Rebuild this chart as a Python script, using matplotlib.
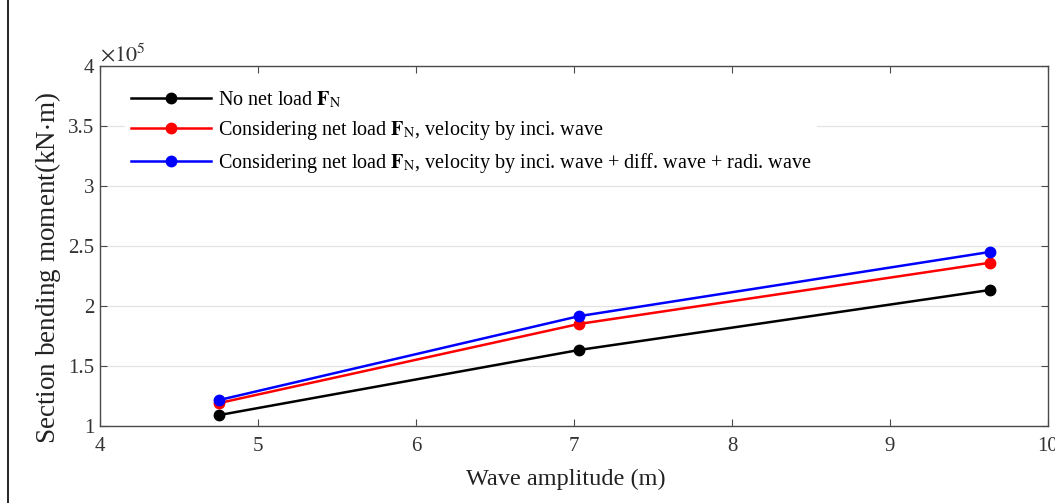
import matplotlib
matplotlib.use('Agg')
import matplotlib.pyplot as plt
from matplotlib.lines import Line2D

plt.rcParams.update({
    'font.family': ['Liberation Serif', 'DejaVu Serif'],
    'mathtext.fontset': 'stix',
    'font.size': 15,
})

# wave amplitude (m)
amplitude = [4.75, 7.03, 9.63]
# section bending moment, units of 1e5 kN*m
no_net_load = [1.09, 1.633, 2.133]
net_load_inci = [1.19, 1.85, 2.36]
net_load_all = [1.215, 1.915, 2.45]

labels = [
    r'No net load $\mathbf{F}_\mathrm{N}$',
    r'Considering net load $\mathbf{F}_\mathrm{N}$, velocity by inci. wave',
    r'Considering net load $\mathbf{F}_\mathrm{N}$, velocity by inci. wave + diff. wave + radi. wave',
]
colors = ['black', '#ff0000', '#0000ff']
xticks = [4, 5, 6, 7, 8, 9, 10]
yticks = [1, 1.5, 2, 2.5, 3, 3.5, 4]

fig = plt.figure(figsize=(10.55, 5.03), dpi=100)
ax = fig.add_axes([0.0948, 0.1531, 0.8986, 0.7157])

for ys, c, lab in zip([no_net_load, net_load_inci, net_load_all], colors, labels):
    ax.plot(amplitude, ys, '-o', color=c, lw=1.8, ms=7.5, label=lab)

ax.set_xlim(4, 10)
ax.set_ylim(1, 4)
ax.set_xticks(xticks)
ax.set_yticks(yticks)
ax.set_yticklabels([f'{v:g}' for v in yticks])
ax.grid(axis='y', color='#e3e3e3', lw=0.9)
ax.set_axisbelow(True)

grey = '#4a4a4a'
for s in ax.spines.values():
    s.set_color(grey)
    s.set_linewidth(1.0)
ax.tick_params(direction='in', top=True, right=True, length=5, color=grey,
               labelcolor='#333333', labelsize=15)
ax.tick_params(axis='x', pad=8)
ax.tick_params(axis='y', pad=4)

ax.set_xlabel('Wave amplitude (m)', fontsize=17.5, color='#222222')
ax.xaxis.set_label_coords(0.4916, -0.12)
ax.set_ylabel(r'Section bending moment(kN$\cdot$m)', fontsize=19.5, color='#222222')
ax.yaxis.set_label_coords(-0.039, 0.44)
ax.text(0.0, 1.0, r'$\times10^5$', transform=ax.transAxes, fontsize=16,
        color='#333333', ha='left', va='bottom')

leg = ax.legend(loc='upper left', bbox_to_anchor=(0.005, 1.007), frameon=True,
                fontsize=14.5, handlelength=4.0, handletextpad=0.3,
                labelspacing=0.45, borderpad=0.3, borderaxespad=1.0)
leg.get_frame().set_facecolor('white')
leg.get_frame().set_edgecolor('none')
leg.get_frame().set_alpha(1.0)

# page border line at the left edge
fig.add_artist(Line2D([0.0076, 0.0076], [0, 1], transform=fig.transFigure,
                      color='black', lw=1.2))

fig.savefig('out.png', dpi=100)
